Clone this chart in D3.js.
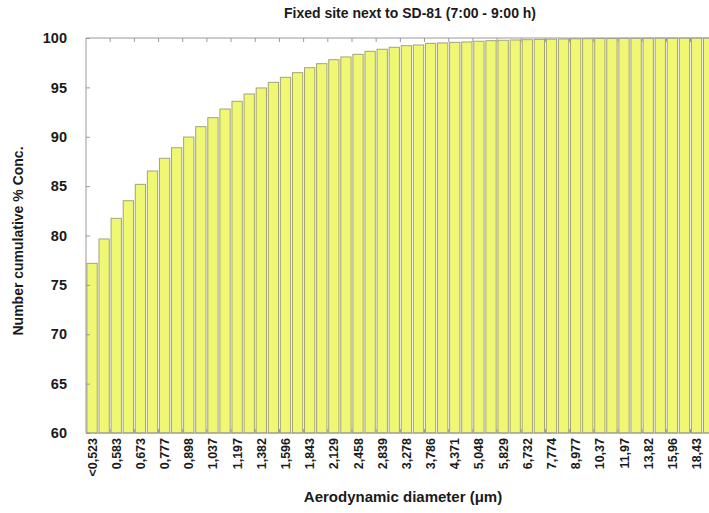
<!DOCTYPE html>
<html>
<head>
<meta charset="utf-8">
<script src="https://cdn.jsdelivr.net/npm/d3@7"></script>
<style>
  html, body { margin: 0; padding: 0; background: #fff; }
  svg { display: block; }
  text { font-family: "Liberation Sans", Arial, sans-serif; font-weight: bold; fill: #1a1a1a; }
</style>
</head>
<body>
<svg id="chart" width="709" height="513"></svg>
<script>
// Size bins (aerodynamic diameter, µm)
const categories = ["<0,523","0,542","0,583","0,626","0,673","0,723","0,777","0,835","0,898","0,965",
  "1,037","1,114","1,197","1,286","1,382","1,486","1,596","1,715","1,843","1,981",
  "2,129","2,288","2,458","2,642","2,839","3,051","3,278","3,523","3,786","4,068",
  "4,371","4,698","5,048","5,425","5,829","6,264","6,732","7,234","7,774","8,354",
  "8,977","9,647","10,37","11,14","11,97","12,86","13,82","14,86","15,96","17,15",
  "18,43","19,81"];
// Number cumulative % concentration
const values = [77.18,79.65,81.74,83.52,85.18,86.53,87.82,88.89,89.97,91.02,
  91.93,92.81,93.59,94.33,94.94,95.51,96.02,96.49,96.99,97.40,
  97.80,98.08,98.35,98.65,98.86,99.06,99.22,99.29,99.46,99.50,
  99.56,99.60,99.67,99.73,99.77,99.80,99.83,99.86,99.88,99.90,
  99.92,99.93,99.95,99.96,99.97,99.98,99.98,99.99,99.99,100,
  100,100];
const yTicks = [60,65,70,75,80,85,90,95,100];
const title = "Fixed site next to SD-81 (7:00 - 9:00 h)";
const xTitle = "Aerodynamic diameter (\u03BCm)";
const yTitle = "Number cumulative % Conc.";

const svg = d3.select("#chart");
const pLeft = 86, pRight = 714.7, pTop = 38, pBottom = 433;

const x = d3.scaleBand().domain(categories).range([pLeft, pRight]).paddingInner(0.15).paddingOuter(0.075);
const y = d3.scaleLinear().domain([60, 100]).range([pBottom, pTop]);

// bars
svg.append("g").selectAll("rect").data(values).join("rect")
  .attr("x", (d, i) => x(categories[i]))
  .attr("y", d => y(d))
  .attr("width", x.bandwidth())
  .attr("height", d => y(60) - y(d))
  .attr("fill", "#f0f873")
  .attr("stroke", "#a3a37a")
  .attr("stroke-width", 1);

const axisColor = "#9a9a9a";
// frame lines: left, top, bottom
svg.append("line").attr("x1", pLeft).attr("x2", pLeft).attr("y1", pTop).attr("y2", pBottom).attr("stroke", axisColor);
svg.append("line").attr("x1", pLeft).attr("x2", 709).attr("y1", pTop).attr("y2", pTop).attr("stroke", axisColor);
svg.append("line").attr("x1", pLeft).attr("x2", 709).attr("y1", pBottom).attr("y2", pBottom).attr("stroke", axisColor);

// y axis
const yAxis = svg.append("g").attr("transform", `translate(${pLeft},0)`)
  .call(d3.axisLeft(y).tickValues(yTicks).tickSize(-4).tickPadding(19));
yAxis.select(".domain").remove();
yAxis.selectAll(".tick line").attr("stroke", axisColor);
yAxis.selectAll(".tick text").style("font-size", "14.5px").attr("fill", "#1a1a1a")
  .style("font-family", '"Liberation Sans", Arial, sans-serif').style("font-weight", "bold");

// x ticks at every other category boundary (top and bottom, inward)
const gap = (x.step() - x.bandwidth()) / 2;
const bounds = categories.map((c, i) => i).filter(i => i > 0 && i % 2 === 0).map(i => x(categories[i]) - gap);
svg.append("g").selectAll("line").data(bounds).join("line")
  .attr("x1", d => d).attr("x2", d => d).attr("y1", pBottom).attr("y2", pBottom - 4)
  .attr("stroke", axisColor);
svg.append("g").selectAll("line").data(bounds).join("line")
  .attr("x1", d => d).attr("x2", d => d).attr("y1", pTop).attr("y2", pTop + 4)
  .attr("stroke", axisColor);

// x tick labels (every other category)
svg.append("g").selectAll("text").data(categories.filter((c, i) => i % 2 === 0)).join("text")
  .attr("transform", d => `translate(${x(d) + x.bandwidth() / 2 + 4.5},${pBottom + 5}) rotate(-90)`)
  .attr("text-anchor", "end")
  .style("font-size", "12.5px")
  .text(d => d);

// titles
svg.append("text").attr("x", 410).attr("y", 18).attr("text-anchor", "middle").style("font-size", "14px").text(title);
svg.append("text").attr("x", 403).attr("y", 502).attr("text-anchor", "middle").style("font-size", "15px").text(xTitle);
svg.append("text").attr("transform", "translate(23,241) rotate(-90)").attr("text-anchor", "middle").style("font-size", "14px").text(yTitle);
</script>
</body>
</html>
